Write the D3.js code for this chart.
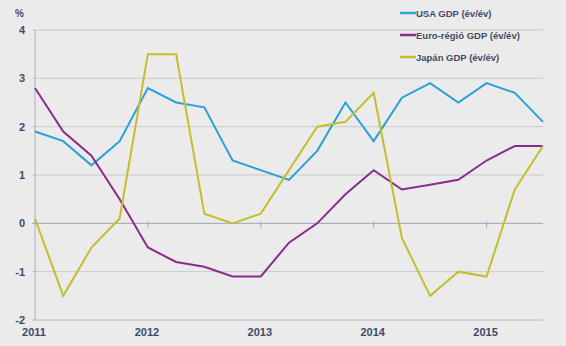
<!DOCTYPE html>
<html>
<head>
<meta charset="utf-8">
<script src="https://cdn.jsdelivr.net/npm/d3@7"></script>
<style>
  body { margin: 0; background: #ebebeb; }
  svg { display: block; font-family: Arial, "Liberation Sans", sans-serif; }
  .lbl { fill: #3f4a68; font-weight: bold; }
</style>
</head>
<body>
<svg id="chart"></svg>
<script>
// quarterly GDP growth, 2011 Q1 .. 2015 Q3
let quarters = d3.range(19).map(function(i) { return 2011 + i / 4 })
let usa = [1.9, 1.7, 1.2, 1.7, 2.8, 2.5, 2.4, 1.3, 1.1, 0.9, 1.5, 2.5, 1.7, 2.6, 2.9, 2.5, 2.9, 2.7, 2.1]
let euro = [2.8, 1.9, 1.4, 0.5, -0.5, -0.8, -0.9, -1.1, -1.1, -0.4, 0.0, 0.6, 1.1, 0.7, 0.8, 0.9, 1.3, 1.6, 1.6]
let japan = [0.1, -1.5, -0.5, 0.1, 3.5, 3.5, 0.2, 0.0, 0.2, 1.1, 2.0, 2.1, 2.7, -0.3, -1.5, -1.0, -1.1, 0.7, 1.6]
let seriesNames = ['USA GDP (év/év)', 'Euro-régió GDP (év/év)', 'Japán GDP (év/év)']
let seriesColors = ['#2ba0d8', '#8a2c8c', '#c4be2c']
let yTicks = [-2, -1, 0, 1, 2, 3, 4]
let xTicks = [2011, 2012, 2013, 2014, 2015]

let width = 566
let height = 346
let margin = { top: 30, left: 35, right: 23, bottom: 26 }

let svg = d3.select('#chart')
  .attr('width', width)
  .attr('height', height)

svg.append('rect').attr('width', width).attr('height', height).attr('fill', '#ebebeb')

let x = d3.scaleLinear()
  .domain([2011, 2015.5])
  .range([margin.left, width - margin.right])

let y = d3.scaleLinear()
  .domain([-2, 4])
  .range([height - margin.bottom, margin.top])

// horizontal gridlines
svg.append('g')
  .selectAll('line')
  .data(yTicks.filter(function(d) { return d !== 0 && d !== -2 }))
  .enter()
  .append('line')
  .attr('x1', margin.left - 3)
  .attr('x2', x(2015.5))
  .attr('y1', function(d) { return y(d) })
  .attr('y2', function(d) { return y(d) })
  .attr('stroke', '#c9c9cc')
  .attr('stroke-width', 1)

// y axis line
svg.append('line')
  .attr('x1', margin.left).attr('x2', margin.left)
  .attr('y1', y(4)).attr('y2', y(-2))
  .attr('stroke', '#a9aebd')

// bottom axis line
svg.append('line')
  .attr('x1', margin.left - 3).attr('x2', x(2015.5))
  .attr('y1', y(-2)).attr('y2', y(-2))
  .attr('stroke', '#b9bcc6')

// zero line with year ticks
svg.append('line')
  .attr('x1', margin.left - 3).attr('x2', x(2015.5))
  .attr('y1', y(0)).attr('y2', y(0))
  .attr('stroke', '#9aa3b8')

svg.append('g')
  .selectAll('line')
  .data(xTicks.slice(1))
  .enter()
  .append('line')
  .attr('x1', function(d) { return x(d) })
  .attr('x2', function(d) { return x(d) })
  .attr('y1', y(0) - 2)
  .attr('y2', y(0) + 4)
  .attr('stroke', '#9aa3b8')

// y labels
svg.append('g')
  .selectAll('text')
  .data(yTicks)
  .enter()
  .append('text')
  .attr('class', 'lbl')
  .attr('x', 25)
  .attr('y', function(d) { return y(d) + 4 })
  .attr('text-anchor', 'end')
  .attr('font-size', 11)
  .text(function(d) { return d })

svg.append('text')
  .attr('class', 'lbl')
  .attr('x', 15)
  .attr('y', 17)
  .attr('font-size', 10)
  .text('%')

// x labels
svg.append('g')
  .selectAll('text')
  .data(xTicks)
  .enter()
  .append('text')
  .attr('class', 'lbl')
  .attr('x', function(d) { return x(d) - 1 })
  .attr('y', 336)
  .attr('text-anchor', 'middle')
  .attr('font-size', 11)
  .text(function(d) { return d })

// series lines
let line = d3.line()
  .x(function(d, i) { return x(quarters[i]) })
  .y(function(d) { return y(d) })

let allSeries = [usa, euro, japan]

svg.append('g')
  .selectAll('path')
  .data(allSeries)
  .enter()
  .append('path')
  .attr('d', line)
  .attr('fill', 'none')
  .attr('stroke', function(d, i) { return seriesColors[i] })
  .attr('stroke-width', 2)
  .attr('stroke-linejoin', 'miter')

// legend
let legend = svg.append('g')
  .selectAll('g')
  .data(seriesNames)
  .enter()
  .append('g')
  .attr('transform', function(d, i) { return 'translate(400,' + (13 + i * 22) + ')' })

legend.append('line')
  .attr('x1', 0).attr('x2', 16)
  .attr('y1', 0).attr('y2', 0)
  .attr('stroke', function(d, i) { return seriesColors[i] })
  .attr('stroke-width', 2.5)

legend.append('text')
  .attr('class', 'lbl')
  .attr('x', 16)
  .attr('y', 3.5)
  .attr('font-size', 9.5)
  .text(function(d) { return d })
</script>
</body>
</html>
